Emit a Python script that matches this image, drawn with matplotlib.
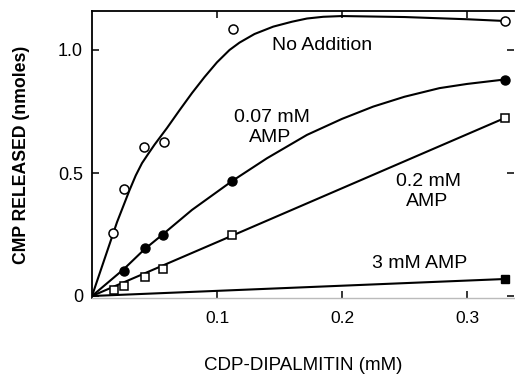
import matplotlib
matplotlib.use("Agg")
import matplotlib.pyplot as plt

# ---- data ----
# No Addition (open circles)
noadd_x = [0.0168, 0.0256, 0.0416, 0.0576, 0.113, 0.33]
noadd_y = [0.256, 0.435, 0.605, 0.627, 1.085, 1.118]
noadd_curve_x = [0, 0.01, 0.02, 0.03, 0.035, 0.04, 0.045, 0.05, 0.06, 0.07, 0.08, 0.09, 0.10, 0.11,
                 0.118, 0.13, 0.145, 0.16, 0.172, 0.185, 0.2, 0.25, 0.3, 0.33]
noadd_curve_y = [0, 0.15, 0.30, 0.43, 0.49, 0.54, 0.578, 0.615, 0.683, 0.755, 0.825, 0.89, 0.95, 1.0,
                 1.03, 1.065, 1.095, 1.115, 1.128, 1.135, 1.138, 1.134, 1.125, 1.118]

# 0.07 mM AMP (filled circles)
amp007_x = [0.0256, 0.042, 0.057, 0.112, 0.33]
amp007_y = [0.103, 0.195, 0.248, 0.467, 0.88]
amp007_curve_x = [0, 0.0256, 0.042, 0.057, 0.08, 0.112, 0.14, 0.172, 0.2, 0.225, 0.25,
                  0.278, 0.3, 0.33]
amp007_curve_y = [0, 0.11, 0.19, 0.252, 0.35, 0.467, 0.56, 0.655, 0.72, 0.77, 0.81,
                  0.845, 0.862, 0.88]

# 0.2 mM AMP (open squares)
amp02_x = [0.0176, 0.0256, 0.042, 0.057, 0.112, 0.33]
amp02_y = [0.026, 0.042, 0.078, 0.11, 0.248, 0.723]
amp02_curve_x = [0, 0.112, 0.33]
amp02_curve_y = [0, 0.245, 0.723]

# 3 mM AMP (filled square)
amp3_x = [0.33]
amp3_y = [0.069]
amp3_curve_x = [0, 0.33]
amp3_curve_y = [0, 0.069]

x_ticks = [0.1, 0.2, 0.3]
x_ticklabels = ["0.1", "0.2", "0.3"]
y_ticks = [0, 0.5, 1.0]
y_ticklabels = ["0", "0.5", "1.0"]

plt.rcParams['font.family'] = ['Liberation Sans', 'DejaVu Sans']

fig = plt.figure(figsize=(5.15, 3.76), dpi=100)
ax = fig.add_axes([92 / 515, (376 - 298) / 376, (514 - 92) / 515, (298 - 11) / 376])

lw = 1.5
ax.plot(noadd_curve_x, noadd_curve_y, color='black', lw=lw, zorder=2)
ax.plot(amp007_curve_x, amp007_curve_y, color='black', lw=lw, zorder=2)
ax.plot(amp02_curve_x, amp02_curve_y, color='black', lw=lw, zorder=2)
ax.plot(amp3_curve_x, amp3_curve_y, color='black', lw=lw, zorder=2)

ax.plot(noadd_x, noadd_y, 'o', ms=6.5, mfc='white', mec='black', mew=1.1, zorder=3, clip_on=False)
ax.plot(amp007_x, amp007_y, 'o', ms=6.5, mfc='black', mec='black', zorder=3, clip_on=False)
ax.plot(amp02_x, amp02_y, 's', ms=6, mfc='white', mec='black', mew=1.1, zorder=3, clip_on=False)
ax.plot(amp3_x, amp3_y, 's', ms=6, mfc='black', mec='black', zorder=3, clip_on=False)

ax.set_xlim(0, (514 - 92) / 1250)
ax.set_ylim(-2 / 246, (296 - 11) / 246)

ax.set_xticks(x_ticks)
ax.set_xticklabels(x_ticklabels, fontsize=12.5)
ax.set_yticks(y_ticks)
ax.set_yticklabels(y_ticklabels, fontsize=13)
ax.tick_params(axis='both', direction='in', length=5, width=1.1,
               top=True, right=True)
ax.tick_params(axis='y', pad=6.5)
ax.tick_params(axis='x', pad=9.5)

for s in ['left', 'top']:
    ax.spines[s].set_linewidth(1.3)
ax.spines['right'].set_visible(False)
ax.spines['bottom'].set_color('#bbbbbb')
ax.spines['bottom'].set_linewidth(1.0)

ax.set_ylabel("CMP RELEASED (nmoles)", fontsize=12.7, fontweight='bold', labelpad=20)
ax.set_xlabel("CDP-DIPALMITIN (mM)", fontsize=13.5, labelpad=22.5)

def px(xp, yp):
    return ((xp - 92) / 1250, (296 - yp) / 246)

fs = 14
ax.text(*px(322, 45), "No Addition", fontsize=fs, ha='center', va='center')
ax.text(*px(272, 117), "0.07 mM", fontsize=fs, ha='center', va='center')
ax.text(*px(270, 138), "AMP", fontsize=fs, ha='center', va='center')
ax.text(*px(428, 182), "0.2 mM", fontsize=fs, ha='center', va='center')
ax.text(*px(427, 201), "AMP", fontsize=fs, ha='center', va='center')
ax.text(*px(420, 263), "3 mM AMP", fontsize=fs, ha='center', va='center')

fig.savefig("out.png", dpi=100)
